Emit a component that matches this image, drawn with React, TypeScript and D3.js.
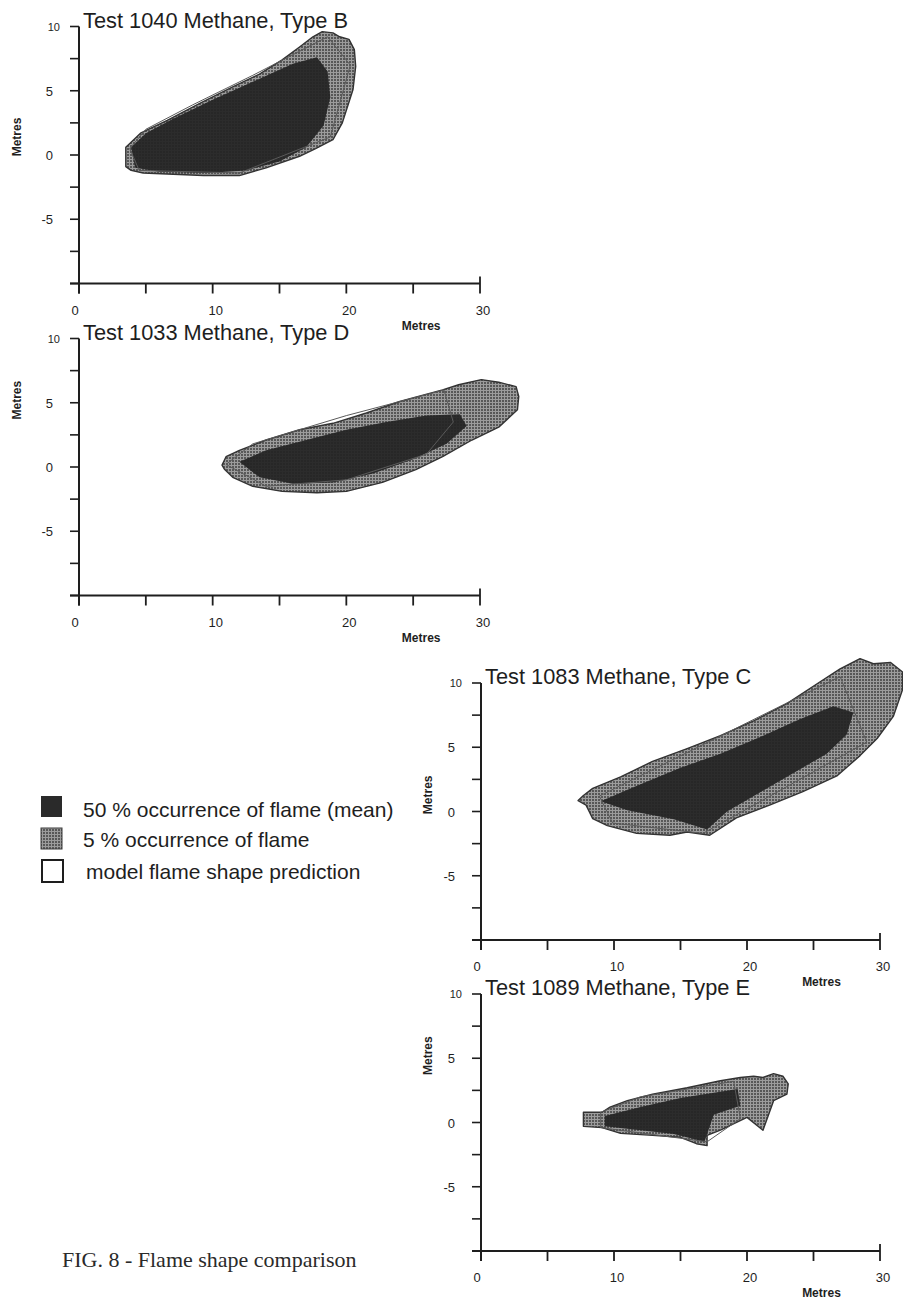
import React from 'react';
import * as d3 from 'd3';

type Pt = [number, number];

// axis ticks (metres)
const xLabelTicks = [0, 10, 20, 30];
const xTickMarks = [0, 5, 10, 15, 20, 25, 30];
const yLabelTicks = [5, 0, -5];
const yTickMarks = [10, 7.5, 5, 2.5, 0, -2.5, -5, -7.5, -10];

const titles = [
  'Test 1040 Methane, Type B',
  'Test 1033 Methane, Type D',
  'Test 1083 Methane, Type C',
  'Test 1089 Methane, Type E',
];

// Test 1040 (type B)
const outer1040: Pt[] = [
  [3.5, 0.6], [3.5, -0.9], [3.9, -1.2], [4.8, -1.4], [9.3, -1.6], [12.0, -1.6],
  [14.0, -1.0], [16.5, -0.1], [17.7, 0.5], [19.0, 1.2], [19.7, 2.5], [20.5, 5.1],
  [20.7, 6.9], [20.6, 8.2], [20.2, 9.0], [19.5, 9.2], [19.0, 9.5], [18.2, 9.6],
  [17.5, 9.2], [16.5, 8.4], [15.2, 7.4], [13.5, 6.3], [11.5, 5.3], [9.0, 4.0],
  [6.6, 2.7], [4.6, 1.7], [3.8, 0.9],
];
const inner1040: Pt[] = [
  [3.9, 0.6], [4.2, -1.0], [6.0, -1.3], [9.5, -1.4], [12.5, -1.2], [15.0, -0.5],
  [17.0, 0.6], [18.3, 2.3], [18.8, 4.5], [18.6, 6.5], [17.8, 7.6], [16.0, 7.1],
  [13.0, 5.7], [10.0, 4.3], [7.0, 2.8], [5.0, 1.7],
];
const model1040: Pt[] = [
  [3.8, 0.5], [4.5, -1.2], [12.0, -1.4], [18.8, 1.4], [20.3, 7.0], [18.6, 9.2],
  [13.0, 6.2], [8.5, 3.9], [5.0, 2.0],
];

// Test 1033 (type D)
const outer1033: Pt[] = [
  [10.7, 0.15], [11.0, 0.8], [12.0, 1.3], [14.0, 2.1], [16.5, 2.9], [19.0, 3.4],
  [21.5, 4.2], [24.0, 5.1], [27.2, 6.0], [28.4, 6.4], [30.1, 6.8], [31.4, 6.6],
  [32.7, 6.25], [32.9, 5.5], [32.8, 4.45], [31.4, 3.1], [29.4, 2.1], [27.2, 0.8],
  [25.2, -0.2], [22.7, -1.2], [20.0, -1.9], [17.8, -2.0], [15.2, -1.9], [13.0, -1.5],
  [11.5, -0.8], [10.9, -0.2],
];
const inner1033: Pt[] = [
  [12.0, 0.4], [14.0, 1.3], [17.0, 2.1], [20.0, 2.9], [23.0, 3.5], [26.0, 4.0],
  [28.5, 4.1], [29.0, 3.2], [27.5, 1.8], [25.0, 0.6], [22.0, -0.5], [19.0, -1.2],
  [16.0, -1.3], [13.5, -0.8],
];
const model1033: Pt[] = [
  [11.0, 0.2], [13.0, 1.8], [20.0, 4.0], [27.3, 6.0], [28.0, 3.5], [26.0, 1.0],
  [20.0, -1.0], [14.0, -1.5],
];

// Test 1083 (type C)
const outer1083: Pt[] = [
  [7.3, 0.85], [7.7, 1.25], [8.4, 1.8], [10.5, 2.7], [12.9, 3.9], [15.5, 4.9],
  [18.0, 5.9], [20.5, 7.05], [23.0, 8.4], [25.5, 10.1], [27.0, 11.1], [28.5, 11.9],
  [29.5, 11.5], [30.8, 11.6], [31.7, 10.85], [31.7, 9.5], [31.0, 7.4], [29.8, 5.7],
  [28.5, 4.35], [26.8, 2.8], [24.2, 1.55], [21.7, 0.5], [19.2, -0.5], [17.2, -1.85],
  [15.5, -1.6], [14.2, -1.85], [11.7, -1.7], [9.5, -1.1], [8.4, -0.55], [7.9, 0.5],
];
const inner1083: Pt[] = [
  [9.0, 0.8], [11.5, 1.9], [15.0, 3.4], [18.0, 4.5], [21.0, 5.8], [24.0, 7.2],
  [26.5, 8.2], [28.0, 7.7], [27.5, 6.0], [26.0, 4.5], [23.5, 3.0], [21.0, 1.5],
  [18.5, 0.0], [17.0, -1.4], [14.5, -0.6], [11.0, 0.1],
];
const model1083: Pt[] = [
  [8.9, 1.2], [27.0, 10.5], [29.0, 5.4], [16.7, -1.7], [9.9, -0.9],
];

// Test 1089 (type E)
const outer1089: Pt[] = [
  [7.7, 0.8], [7.7, -0.3], [9.1, -0.4], [10.5, -0.85], [12.9, -1.0], [15.0, -1.15],
  [16.2, -1.65], [17.0, -1.8], [17.0, -1.0], [18.0, -0.6], [20.0, 0.4], [21.2, -0.6],
  [22.0, 1.7], [23.0, 2.2], [23.1, 3.0], [22.7, 3.6], [22.0, 3.8], [21.2, 3.5],
  [20.5, 3.6], [19.5, 3.5], [18.0, 3.25], [15.5, 2.7], [12.9, 2.2], [11.0, 1.7],
  [9.7, 1.2], [9.1, 0.8],
];
const inner1089: Pt[] = [
  [9.3, 0.5], [12.0, 1.2], [15.0, 1.9], [19.3, 2.6], [19.5, 1.3], [17.5, 0.6],
  [16.8, -1.5], [14.5, -0.9], [12.0, -0.6], [9.3, -0.3],
];
const model1089: Pt[] = [
  [9.0, 0.8], [12.0, 2.0], [19.0, 3.2], [19.5, 0.3], [17.0, -1.5], [9.0, -0.4],
];

const legendLabels = [
  '50 % occurrence of flame (mean)',
  '5 % occurrence of flame',
  'model flame shape prediction',
];
const caption = 'FIG. 8 - Flame shape comparison';

const panels = [
  { title: titles[0], outer: outer1040, inner: inner1040, model: model1040, x0: 79, x1: 480, y0: 26.5, y1: 283.5, yLab: 1.4 },
  { title: titles[1], outer: outer1033, inner: inner1033, model: model1033, x0: 79, x1: 480, y0: 338.5, y1: 595.5, yLab: 5.2 },
  { title: titles[2], outer: outer1083, inner: inner1083, model: model1083, x0: 481, x1: 880, y0: 683, y1: 940, yLab: 1.3 },
  { title: titles[3], outer: outer1089, inner: inner1089, model: model1089, x0: 481, x1: 880, y0: 994, y1: 1251, yLab: 5.2 },
];

const sans = '"Liberation Sans", Arial, Helvetica, sans-serif';
const ink = '#1e1e1e';

function Panel({ p }: { p: (typeof panels)[number] }) {
  const x = d3.scaleLinear().domain([0, 30]).range([p.x0, p.x1]);
  const y = d3.scaleLinear().domain([-10, 10]).range([p.y1, p.y0]);
  const shape = d3
    .line<Pt>()
    .x((d) => x(d[0]))
    .y((d) => y(d[1]))
    .curve(d3.curveLinearClosed);

  const ax = x(0);
  const ay = y(-10);
  return (
    <g>
      {/* flame shapes */}
      <path d={shape(p.outer) || ''} fill="url(#hatch)" stroke="#333" strokeWidth={1.4} strokeLinejoin="round" />
      <path d={shape(p.inner) || ''} fill="#242424" fillOpacity={0.93} stroke="none" />
      <path d={shape(p.model) || ''} fill="none" stroke="#5a5a5a" strokeWidth={1} />

      {/* y axis */}
      <line x1={ax} x2={ax} y1={y(10)} y2={ay + 10} stroke={ink} strokeWidth={2} />
      {yTickMarks.map((t) => (
        <line key={t} x1={ax - 9} x2={ax} y1={y(t)} y2={y(t)} stroke={ink} strokeWidth={1.6} />
      ))}
      <text x={ax - 19} y={y(10) + 4} textAnchor="end" fontFamily={sans} fontSize={11} fill={ink}>
        10
      </text>
      {yLabelTicks.map((t) => (
        <text key={t} x={ax - 26} y={y(t) + 5} textAnchor="end" fontFamily={sans} fontSize={13} fill={ink}>
          {t}
        </text>
      ))}
      <text
        transform={`translate(${ax - (p.x0 < 200 ? 58 : 49)},${y(p.yLab)}) rotate(-90)`}
        textAnchor="middle"
        fontFamily={sans}
        fontSize={12}
        fontWeight="bold"
        fill={ink}
      >
        Metres
      </text>

      {/* x axis */}
      <line x1={ax - 9} x2={x(30)} y1={ay} y2={ay} stroke={ink} strokeWidth={2} />
      {xTickMarks.map((t) => (
        <line key={t} x1={x(t)} x2={x(t)} y1={t === 30 ? ay - 7 : ay} y2={ay + 10} stroke={ink} strokeWidth={1.8} />
      ))}
      {xLabelTicks.map((t) => (
        <text key={t} x={x(t) + (t === 0 ? -4 : 3)} y={ay + 31} textAnchor="middle" fontFamily={sans} fontSize={13} fill={ink}>
          {t}
        </text>
      ))}
      <text x={x(25.6)} y={ay + 46} textAnchor="middle" fontFamily={sans} fontSize={12} fontWeight="bold" fill={ink}>
        Metres
      </text>

      {/* title */}
      <text x={ax + 4} y={y(10) + 1} fontFamily={sans} fontSize={21.8} fill={ink}>
        {p.title}
      </text>
    </g>
  );
}

export default function App() {
  const legendRows = [796, 828, 860];
  const legendBase = [817, 847, 879];
  return (
    <svg
      width={903}
      height={1299}
      style={{ position: 'absolute', left: 0, top: 0, background: '#fff' }}
    >
      <defs>
        <pattern id="hatch" width={3} height={3} patternUnits="userSpaceOnUse">
          <rect width={3} height={3} fill="#585858" />
          <path d="M0 0.5H3M0.5 0V3" stroke="#9c9c9c" strokeWidth={1} />
        </pattern>
      </defs>
      <rect width={903} height={1299} fill="#fff" />

      {panels.map((p) => (
        <Panel key={p.title} p={p} />
      ))}

      {/* legend */}
      {legendLabels.map((label, i) => {
        const top = legendRows[i];
        return (
          <g key={label}>
            {i === 0 && <rect x={41} y={top} width={21} height={21} fill="#2a2a2a" />}
            {i === 1 && <rect x={41} y={top} width={21} height={21} fill="url(#hatch)" stroke="#3a3a3a" strokeWidth={1} />}
            {i === 2 && <rect x={42} y={top} width={21} height={22} fill="#fff" stroke={ink} strokeWidth={2} />}
            <text x={i === 2 ? 86 : 83} y={legendBase[i]} fontFamily={sans} fontSize={21} fill={ink}>
              {label}
            </text>
          </g>
        );
      })}

      {/* caption */}
      <text x={62} y={1267} fontFamily='"Liberation Serif", "Times New Roman", serif' fontSize={22} fill="#2a2a2a">
        {caption}
      </text>
    </svg>
  );
}
